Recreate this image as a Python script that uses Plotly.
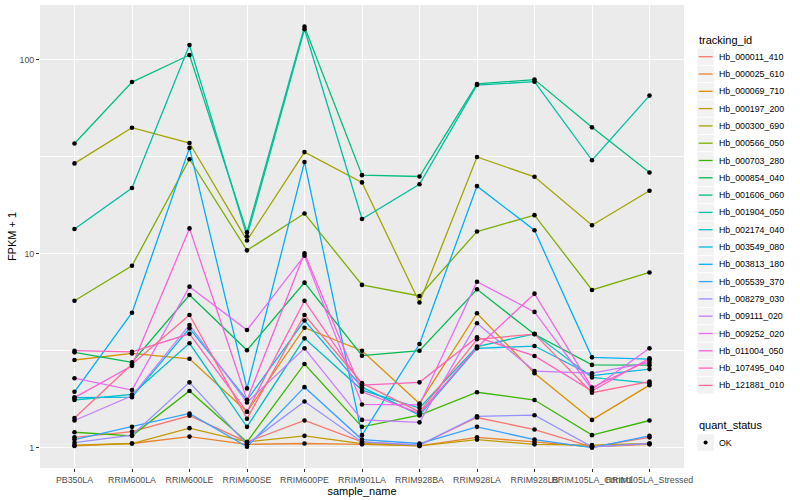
import plotly.graph_objects as go

# ---------------- data ----------------
sample_name = ["PB350LA", "RRIM600LA", "RRIM600LE", "RRIM600SE", "RRIM600PE",
               "RRIM901LA", "RRIM928BA", "RRIM928LA", "RRIM928LB",
               "RRIM105LA_Control", "RRIM105LA_Stressed"]

tracking_id = ["Hb_000011_410", "Hb_000025_610", "Hb_000069_710", "Hb_000197_200",
               "Hb_000300_690", "Hb_000566_050", "Hb_000703_280", "Hb_000854_040",
               "Hb_001606_060", "Hb_001904_050", "Hb_002174_040", "Hb_003549_080",
               "Hb_003813_180", "Hb_005539_370", "Hb_008279_030", "Hb_009111_020",
               "Hb_009252_020", "Hb_011004_050", "Hb_107495_040", "Hb_121881_010"]

# FPKM + 1 per sample
hb_000011_410 = [1.13, 1.21, 1.46, 1.07, 1.38, 1.07, 1.03, 1.43, 1.24, 1.01, 1.13]
hb_000025_610 = [1.02, 1.05, 1.14, 1.04, 1.05, 1.04, 1.02, 1.13, 1.07, 1.01, 1.04]
hb_000069_710 = [2.83, 3.06, 2.87, 1.53, 4.15, 3.16, 1.69, 4.93, 2.42, 1.39, 2.10]
hb_000197_200 = [1.03, 1.05, 1.26, 1.07, 1.15, 1.05, 1.02, 1.10, 1.04, 1.03, 1.05]
hb_000300_690 = [29.2, 44.6, 37.2, 11.7, 33.4, 23.3, 5.6, 31.5, 24.9, 14.0, 21.1]
hb_000566_050 = [5.72, 8.67, 30.7, 10.4, 16.1, 6.9, 6.05, 13.0, 15.8, 6.5, 8.0]
hb_000703_280 = [1.20, 1.15, 1.96, 1.07, 2.70, 1.28, 1.47, 1.93, 1.76, 1.16, 1.38]
hb_000854_040 = [3.10, 2.75, 6.12, 3.18, 7.09, 2.98, 3.16, 6.55, 3.84, 2.67, 2.66]
hb_001606_060 = [37.0, 76.7, 105.7, 12.9, 148.0, 25.4, 25.0, 75.0, 79.0, 44.8, 26.2]
hb_001904_050 = [13.4, 21.8, 119.0, 12.3, 143.6, 15.1, 22.8, 74.0, 77.0, 30.3, 65.3]
hb_002174_040 = [1.76, 1.88, 3.45, 1.28, 3.66, 1.98, 1.60, 3.32, 3.86, 2.30, 2.15]
hb_003549_080 = [1.81, 1.82, 4.12, 1.76, 4.52, 2.05, 1.47, 3.25, 3.34, 2.35, 2.54]
hb_003813_180 = [1.94, 4.96, 35.1, 2.02, 29.7, 1.16, 3.42, 22.3, 13.2, 2.92, 2.86]
hb_005539_370 = [1.10, 1.28, 1.50, 1.01, 2.05, 1.10, 1.05, 1.28, 1.10, 1.00, 1.15]
hb_008279_030 = [1.06, 1.16, 2.17, 1.04, 1.73, 1.07, 1.03, 1.45, 1.47, 1.01, 1.05]
hb_009111_020 = [1.38, 1.85, 4.29, 1.71, 3.25, 1.39, 1.35, 4.38, 2.48, 2.42, 2.74]
hb_009252_020 = [2.28, 1.98, 6.76, 4.04, 9.77, 1.67, 1.66, 7.17, 5.01, 2.00, 3.25]
hb_011004_050 = [1.81, 2.64, 13.5, 1.76, 10.05, 1.94, 1.50, 3.28, 6.22, 2.04, 2.83]
hb_107495_040 = [3.16, 3.12, 3.86, 1.53, 5.72, 2.10, 2.17, 3.71, 2.97, 1.96, 2.89]
hb_121881_010 = [1.42, 2.69, 4.83, 1.41, 4.83, 2.15, 1.53, 3.62, 3.85, 1.92, 2.19]

series_values = [hb_000011_410, hb_000025_610, hb_000069_710, hb_000197_200,
                 hb_000300_690, hb_000566_050, hb_000703_280, hb_000854_040,
                 hb_001606_060, hb_001904_050, hb_002174_040, hb_003549_080,
                 hb_003813_180, hb_005539_370, hb_008279_030, hb_009111_020,
                 hb_009252_020, hb_011004_050, hb_107495_040, hb_121881_010]

quant_status = ["OK"]
y_ticks = [1, 10, 100]
y_minor = [10 ** 0.5, 10 ** 1.5]

# ---------------- style ----------------
colors = ["#F8766D", "#EA8331", "#D89000", "#C09B00", "#A3A500", "#7CAE00",
          "#39B600", "#00BB4E", "#00BF7D", "#00C1A3", "#00BFC4", "#00BAE0",
          "#00B0F6", "#35A2FF", "#9590FF", "#C77CFF", "#E76BF3", "#FA62DB",
          "#FF62BC", "#FF6C91"]
FONT = "Liberation Sans, Arial, sans-serif"
W, H = 800, 500
L, R, T, B = 40, 684, 5, 468


def px(x):
    return (x - L) / (R - L)


def py(y):
    return (B - y) / (B - T)


fig = go.Figure()

# lines first (ggplot geom_line layer)
for tid, vals, col in zip(tracking_id, series_values, colors):
    fig.add_trace(go.Scatter(x=sample_name, y=vals, mode="lines", name=tid,
                             line=dict(color=col, width=1.3),
                             hoverinfo="skip"))
# points on top (geom_point layer)
for tid, vals in zip(tracking_id, series_values):
    fig.add_trace(go.Scatter(x=sample_name, y=vals, mode="markers", name=tid,
                             marker=dict(color="black", size=4.6, symbol="circle"),
                             showlegend=False))

# ---------------- manual ggplot-style legend ----------------
shapes = []
annotations = []
annotations.append(dict(text="tracking_id", x=px(696.5), y=py(40.5), xref="paper", yref="paper",
                        xanchor="left", yanchor="middle", showarrow=False,
                        font=dict(family=FONT, size=11, color="black")))
step = 17.3
for i, (tid, col) in enumerate(zip(tracking_id, colors)):
    cy = 56.7 + step * i
    shapes.append(dict(type="rect", xref="paper", yref="paper",
                       x0=px(697), x1=px(714.3), y0=py(cy + step / 2), y1=py(cy - step / 2),
                       fillcolor="#F2F2F2", line=dict(color="white", width=0.8), layer="below"))
    shapes.append(dict(type="line", xref="paper", yref="paper",
                       x0=px(698.7), x1=px(712.6), y0=py(cy), y1=py(cy),
                       line=dict(color=col, width=1.3)))
    annotations.append(dict(text=tid, x=px(716.5), y=py(cy), xref="paper", yref="paper",
                            xanchor="left", yanchor="middle", showarrow=False,
                            font=dict(family=FONT, size=8.8, color="black")))

annotations.append(dict(text="quant_status", x=px(696.5), y=py(424.5), xref="paper", yref="paper",
                        xanchor="left", yanchor="middle", showarrow=False,
                        font=dict(family=FONT, size=11, color="black")))
qy = 442.5
shapes.append(dict(type="rect", xref="paper", yref="paper",
                   x0=px(697), x1=px(714.3), y0=py(qy + step / 2), y1=py(qy - step / 2),
                   fillcolor="#F2F2F2", line=dict(color="white", width=0.8), layer="below"))
shapes.append(dict(type="circle", xref="paper", yref="paper",
                   x0=px(703.6), x1=px(707.6), y0=py(qy + 2), y1=py(qy - 2),
                   fillcolor="black", line=dict(color="black", width=0)))
annotations.append(dict(text=quant_status[0], x=px(716.5), y=py(qy), xref="paper", yref="paper",
                        xanchor="left", yanchor="middle", showarrow=False,
                        font=dict(family=FONT, size=8.8, color="black")))

fig.update_layout(
    width=W, height=H,
    margin=dict(l=L, r=W - R, t=T, b=H - B, pad=0),
    paper_bgcolor="white", plot_bgcolor="#EBEBEB",
    showlegend=False,
    font=dict(family=FONT, color="black"),
    shapes=shapes, annotations=annotations,
)
fig.update_xaxes(
    type="category", categoryorder="array", categoryarray=sample_name,
    range=[-0.6, len(sample_name) - 0.4], tickangle=0,
    showgrid=True, gridcolor="white", gridwidth=1.1, zeroline=False, showline=False,
    ticks="outside", ticklen=3, tickcolor="#333333", tickwidth=1,
    tickfont=dict(family=FONT, size=8.8, color="#4D4D4D"),
    title=dict(text="sample_name", font=dict(family=FONT, size=11, color="black"), standoff=0),
    automargin=False, fixedrange=True,
)
fig.update_yaxes(
    type="log", range=[-0.105, 2.282],
    tickmode="array", tickvals=y_ticks, ticktext=[str(v) for v in y_ticks],
    showgrid=True, gridcolor="white", gridwidth=1.1, zeroline=False, showline=False,
    ticks="outside", ticklen=3, tickcolor="#333333", tickwidth=1,
    tickfont=dict(family=FONT, size=8.8, color="#4D4D4D"),
    minor=dict(tickmode="array", tickvals=y_minor, showgrid=True, gridcolor="white",
               gridwidth=0.55, ticks=""),
    title=dict(text="FPKM + 1", font=dict(family=FONT, size=11, color="black"), standoff=0),
    automargin=False, fixedrange=True,
)

fig.write_html("out.html", config={"displayModeBar": False},
               post_script="document.body.style.margin='0px';document.body.style.overflow='hidden';")
